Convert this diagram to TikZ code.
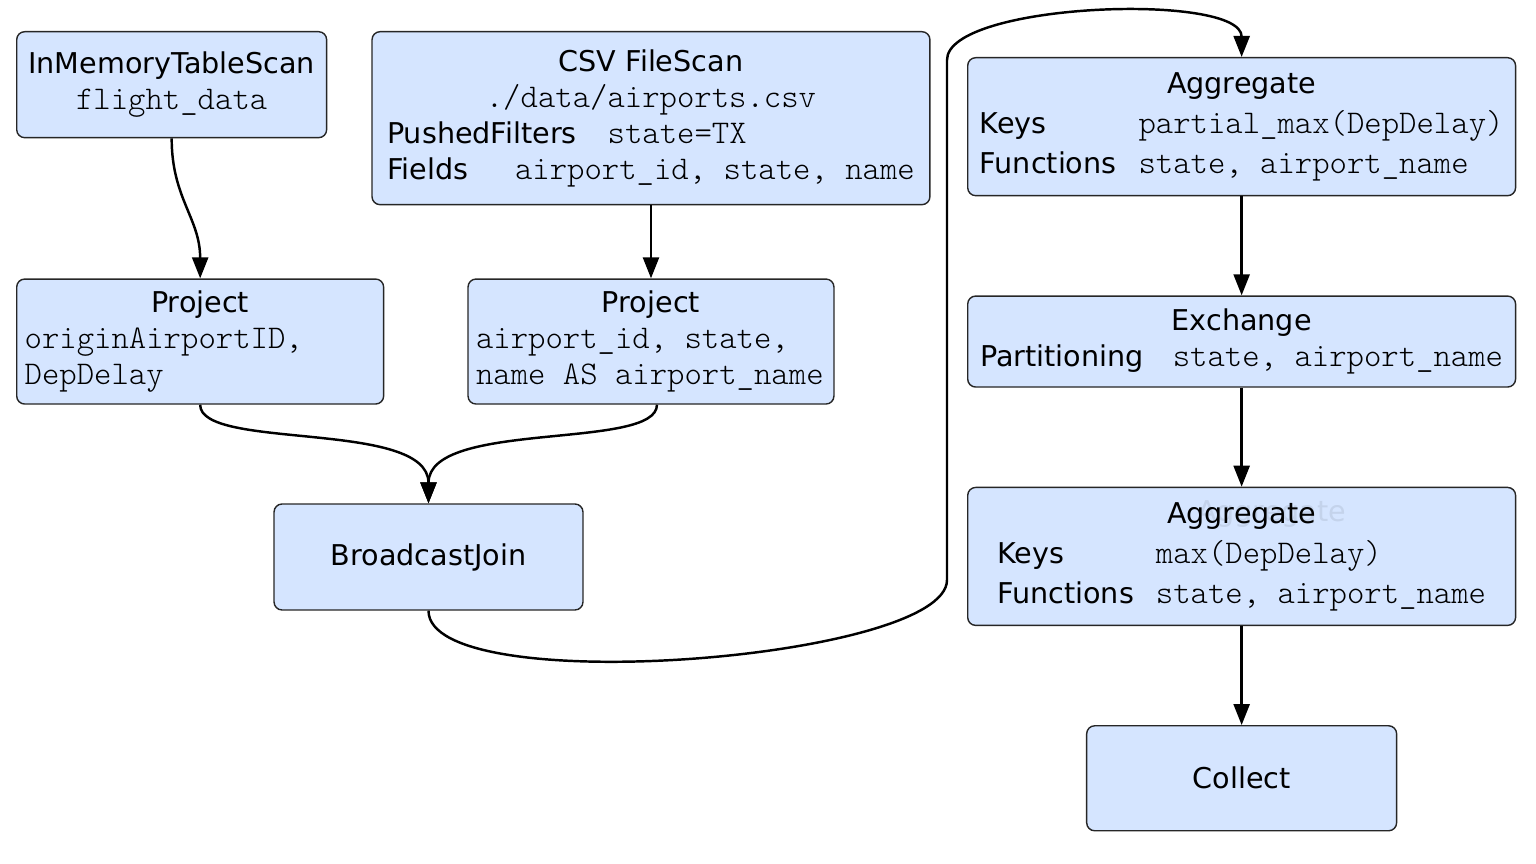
\documentclass[tikz,border=0pt]{standalone}
\usepackage{fontspec}
\setmainfont{DejaVu Sans}
\setmonofont[Scale=1.156]{lmmonolt10-regular.otf}
\usetikzlibrary{arrows.meta,positioning}
\definecolor{planblue}{RGB}{213,229,255}

\begin{document}
\begin{tikzpicture}[
  x=0.02cm, y=-0.02cm,
  node distance=1.98cm,
  planbox/.style={
    draw=black!85,
    fill=planblue,
    rounded corners=0.16cm,
    line width=0.8pt,
    inner sep=0pt,
    align=center,
    font=\fontsize{16.3}{20.5}\selectfont
  },
  ghosttext/.style={text=black, text opacity=0.08, inner sep=0pt, font=\fontsize{16.3}{20.5}\selectfont},
  flow/.style={-{Triangle[length=4.2mm, width=3.2mm]}, line width=1.4pt}
]
\useasboundingbox (0,0) rectangle (1536,864);

\node[planbox, anchor=north west, minimum width=6.2cm, minimum height=2.12cm] (scan) at (16,31)
  {\begin{tabular}{@{}c@{}}InMemoryTableScan\\\texttt{flight\_data}\end{tabular}};
\node[planbox, right=0.88cm of scan.north east, anchor=north west, minimum width=11.16cm, minimum height=3.46cm] (csv)
  {\begin{tabular}{@{}l@{}}
    \multicolumn{1}{@{}c@{}}{CSV FileScan}\\
    \multicolumn{1}{@{}c@{}}{\texttt{./data/airports.csv}}\\
    PushedFilters\hspace{17.6pt}\texttt{state=TX}\\
    Fields\hspace{26.7pt}\texttt{airport\_id, state, name}
  \end{tabular}};
\node[planbox, below=2.8cm of scan.south west, anchor=north west, minimum width=7.34cm, minimum height=2.5cm] (projflights)
  {\begin{tabular}{@{}p{7.02cm}@{}}
    \multicolumn{1}{@{}c@{}}{Project}\\
    \texttt{originAirportID,}\\
    \texttt{DepDelay}
  \end{tabular}};
\node[planbox, below=1.46cm of csv, minimum width=7.32cm, minimum height=2.5cm] (projairports)
  {\begin{tabular}{@{}p{7.0cm}@{}}
    \multicolumn{1}{@{}c@{}}{Project}\\
    \texttt{airport\_id, state,}\\
    \texttt{name AS airport\_name}
  \end{tabular}};
\node[planbox, minimum width=6.18cm, minimum height=2.12cm] (join) at (428.5,557) {BroadcastJoin};

\node[planbox, anchor=north west, minimum width=10.96cm, minimum height=2.76cm] (partialagg) at (967,57)
  {\begin{tabular}{@{}l@{\hspace{0.44cm}}l@{}}
    \multicolumn{2}{@{}c@{}}{Aggregate}\\[2.3pt]
    Keys & \texttt{partial\_max(DepDelay)}\\[2.3pt]
    Functions & \texttt{state, airport\_name}
  \end{tabular}};
\node[planbox, below=of partialagg, minimum width=10.96cm, minimum height=1.82cm] (exchange)
  {\begin{tabular}{@{}l@{\hspace{0.58cm}}l@{}}
    \multicolumn{2}{@{}c@{}}{Exchange}\\
    Partitioning & \texttt{state, airport\_name}
  \end{tabular}};
\node[planbox, below=of exchange, minimum width=10.96cm, minimum height=2.76cm] (finalagg)
  {\begin{tabular}{@{}l@{\hspace{0.44cm}}l@{}}
    \multicolumn{2}{@{}c@{}}{Aggregate}\\[2.3pt]
    Keys & \texttt{max(DepDelay)}\\[2.3pt]
    Functions & \texttt{state, airport\_name}
  \end{tabular}};
\node[ghosttext, anchor=base] (finalaggghost) at ([xshift=0.6cm, yshift=-0.7cm]finalagg.north) {Aggregate};
\node[planbox, below=of finalagg, minimum width=6.2cm, minimum height=2.1cm] (collect) {Collect};

\coordinate (loopfoot) at (947,580);
\coordinate (loophead) at (947,60);

\draw[flow] (scan.south) to[out=-90, in=90, out distance=1.2cm, in distance=1.2cm] (projflights.north);
\draw[flow] (csv.south) -- (projairports.north);
\draw[flow] (projflights.south) to[out=-90, in=90, out distance=0.92cm, in distance=1.68cm] (join.north);
\draw[flow] ([xshift=0.12cm]projairports.south) to[out=-90, in=90, out distance=0.92cm, in distance=1.68cm] (join.north);
\draw[flow] (join.south) to[out=-90, in=-90, out distance=1.8cm, in distance=1.6cm] (loopfoot)
  -- (loophead) to[out=90, in=90, out distance=1.15cm, in distance=1.3cm] (partialagg.north);
\draw[flow] (partialagg) -- (exchange);
\draw[flow] (exchange) -- (finalagg);
\draw[flow] (finalagg) -- (collect);
\end{tikzpicture}
\end{document}
